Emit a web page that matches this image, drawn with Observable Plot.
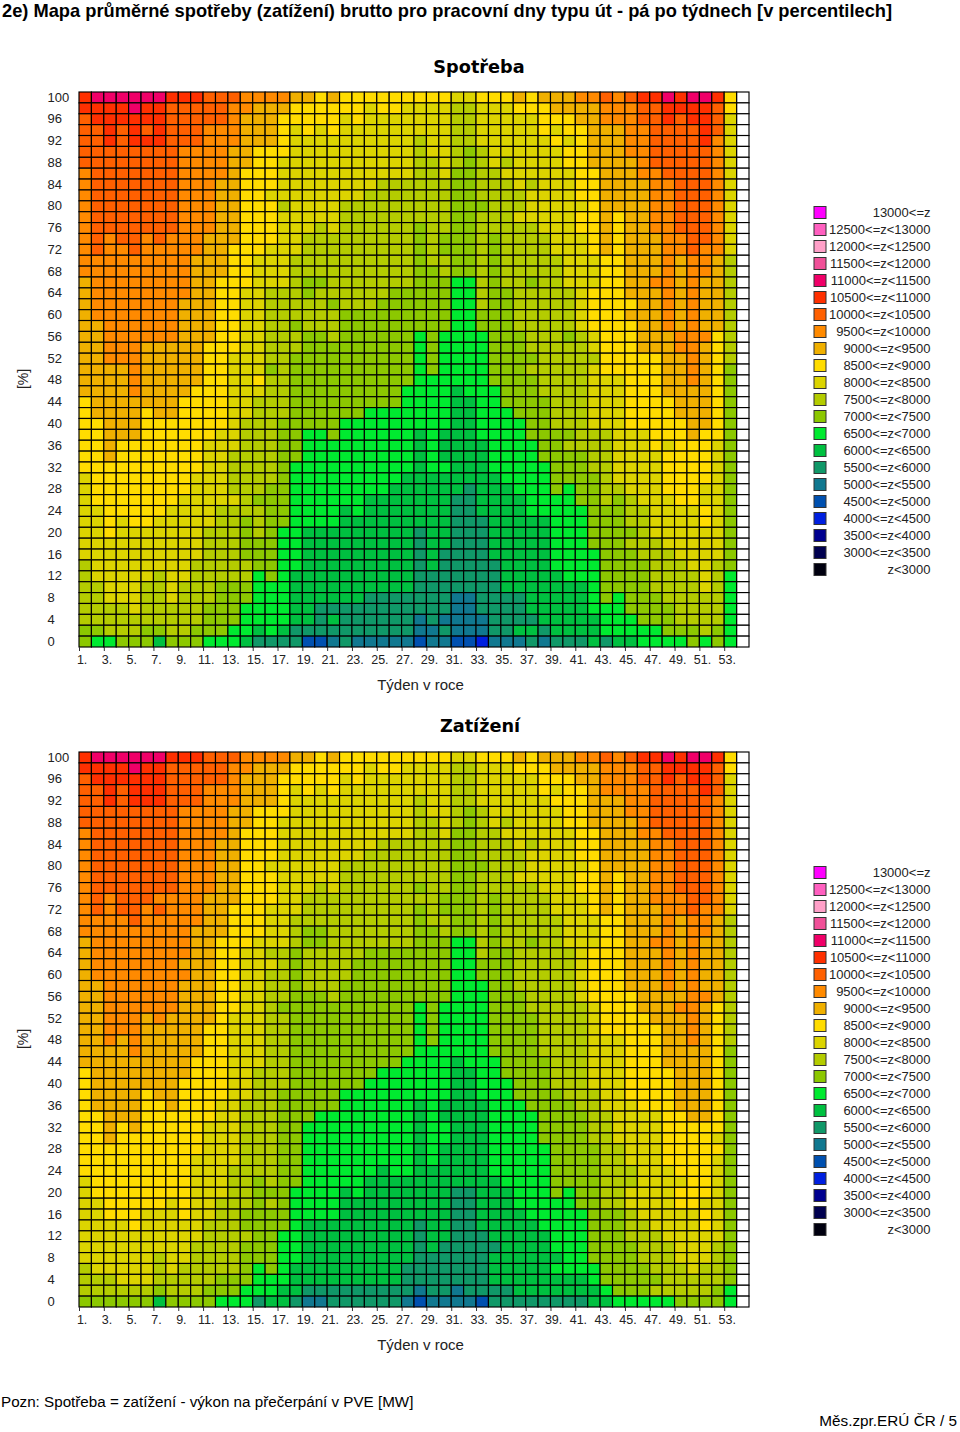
<!DOCTYPE html>
<html><head><meta charset="utf-8">
<script src="https://cdn.jsdelivr.net/npm/d3@7"></script>
<script src="https://cdn.jsdelivr.net/npm/@observablehq/plot@0.6"></script>
<style>
html,body{margin:0;padding:0;background:#fff}
#page{position:relative;width:960px;height:1432px;overflow:hidden;font-family:"Liberation Sans",Arial,sans-serif;color:#000}
#page svg{position:absolute;background:transparent}
.t{position:absolute;white-space:nowrap}
</style></head><body><div id="page"></div>
<script>
const pageTitle = "2e) Mapa průměrné spotřeby (zatížení) brutto pro pracovní dny typu út - pá po týdnech [v percentilech]";
const note = "Pozn: Spotřeba = zatížení - výkon na přečerpání v PVE [MW]";
const pageRef = "Měs.zpr.ERÚ ČR / 5";
const xLabel = "Týden v roce";
const yLabel = "[%]";

const thresholds = [3000,3500,4000,4500,5000,5500,6000,6500,7000,7500,8000,8500,9000,9500,10000,10500,11000,11500,12000,12500,13000];
const colours = ["#00000f","#000050","#000090","#0020e0","#0050b0","#107890","#109868","#00c040","#00ea30","#8cc800","#b4cc00","#dcd400","#ffdc00","#f0b000","#ff8a00","#ff6000","#ff3000","#f00068","#f05098","#ffa0c8","#ff60c0","#ff00ff"];
const legendLabels = ["13000<=z","12500<=z<13000","12000<=z<12500","11500<=z<12000","11000<=z<11500","10500<=z<11000","10000<=z<10500","9500<=z<10000","9000<=z<9500","8500<=z<9000","8000<=z<8500","7500<=z<8000","7000<=z<7500","6500<=z<7000","6000<=z<6500","5500<=z<6000","5000<=z<5500","4500<=z<5000","4000<=z<4500","3500<=z<4000","3000<=z<3500","z<3000"];
const legendValues = [13000,12500,12000,11500,11000,10500,10000,9500,9000,8500,8000,7500,7000,6500,6000,5500,5000,4500,4000,3500,3000,2500];

// band floor (MW) per letter used in the row strings below
const bandFloor = {I:4000,J:4500,K:5000,L:5500,M:6000,N:6500,O:7000,P:7500,Q:8000,R:8500,S:9000,T:9500,U:10000,V:10500,W:11000};

const weeks = d3.range(1,55);
const blankWeek = 54;
const weekTicks = d3.range(1,54,2);
const percentiles = d3.range(100,-1,-2);
const percentileTicks = d3.range(100,-1,-4);

// rows from percentile 100 (top) to 0 (bottom), weeks 1..53
const spotreba = [
"VWWWWWWVVV UUUTTTTSSR SRRRRRRRRR QQRRRSRSSS TTUTUVVWVWWVR",
"VVVVWVVUUU UUTTSSSRRR RRRQRRQQQQ PPQQQRRRSS SSTTTUUVVVVUR",
"UVVVVVVUUU UUTSSSRRRR RQRQQQQQQQ PPQQQQQRRR SSTTTUUVUVVUQ",
"UUVUVUVUUU TTTSSSRQRQ RQQQQQQQQQ PPQQQQQRQR RSSSTTUUUUVUQ",
"UUVUVVVUUU TTTSSSRQQQ QQQQQQQPQQ PPQQQQQQRQ RSSSTTUUUUVTQ",
"UUUUUUUUTT TTSSRRRQQQ QQQQQQQPQQ POPQQQQQQR RSSSTTUUUUUTQ",
"UUUUUUUUTT TTSSRRQQQQ QQQQQQQPPQ POPQPQQQQR RSSSSTUUUUUTQ",
"TUUUUUUUTT TTSRRRQQQQ QQQQQQQPPQ OOPPQQQQQQ RRSSSTTUUUUTQ",
"TUUUUUUUTT TSSRRRQQQQ QQQQPPPPPP OOPPPQPQQQ RRSSSSTTUUUTQ",
"TUUUUUUUTT TSSRRQQQQQ QQQPPPPPPP OOPPPPQQQQ RRSSSSTTUUUTQ",
"TUUUUUUUTT TSSRRRPQQQ QPPPPPPPPP OOOPPPQQQQ QRSSSSTTUUUTQ",
"TUUUUUUUTT TSSRRRQQQQ QPPPPPPPPP OOPPPQQQQQ RRSRSSTTUUUTQ",
"TUUUUUUUTT TSSRRRQQQP QPPPPPPOPP OOPPPPPQQQ RRSRSSTTUUUTQ",
"TUTUUTUTTT SSSRRRQQPP PPPPPPPOPO OOPOPPPPQQ QRSRSSSTTUUTQ",
"TUTTUTTTTT SSRRRQQQPP PPPPPPPOPO OOPOPPPPQQ QRSRSSSTTUTTQ",
"TTTTTTTTTS SSRRQQQPPP PPPPPPPOPP OOPOPPPPPQ QQRRSSSTSTTSP",
"TTTTTTTTTS SSRRQQQPPP PPPPPPPOOP OOPOPPPPPQ QQRRSSSTSTTSP",
"STTTTTTTTS SRRRQQQPOO PPPPPPPOOO NNPOPPOPPQ QQRRSSTTSTSSP",
"STTTTTTTTS SRRQQPPPOP PPPPPOOOOO NNPOOPPPPP QRRRSSSTSTSSP",
"STTTTTTTSS SRRQQPPPPP OPPPOOOOOO NNPOOPPPPP QRRRRSSTSTSSP",
"STTTTTTTSS SRRQQPPPPP POOOOOOOOO NNOOOPPPPP QRRRSSSTSTSSP",
"SSTTTTTTSS SRRQQPPOPP POOOOOOOOO NNOOOPPPPP QRRRRSSTSTSSP",
"SSTTTTTTSS SRRQQPPPOO POOOOOONON NNNOOOPPPO PQRRRSSSTTTRP",
"SSTTTSSSSS RRRQQPPPOO OOOOOOONON NNNOOOPPPP PQRRRSSSTTSRP",
"SSTTTSSSSS RRQQQPPOOO OOOOOOONON NNNOOOOPPP PPRRRRRSSTSRP",
"SSSSTSSSSS RRQQQOPOOO OOOOOOONON NNNOOOPPPP PQRRRRRSSTSRO",
"SSSSTSSSSS RRQQRPPOOO OOOOOOONNN NNNOOOOPPP PQQQRRRSSTSRO",
"SSSSTSSSSR RRQQQPPOOO OOOOOONNNN MNNNOOOPPP PQQQRRRSSSSRO",
"RSSSSSSSRR RRQQPPPOOO OOOOOONNNN MMNNOOOOPP PQQQRRRRSSSRO",
"RSSSSRSSRR RRQQPPPOOO OOONNNNNNN MMNNNOOOPP PQQQRRRRSSSRO",
"RRSSSRRRRR RRQPPPOOOO ONNNNNNNNN MMNNNNOOPP PQQQRRRRRSSRO",
"RRSSSRRRRR RQQPPPOONN ONNNNNNMNM MMNNNNOOOO PPPQQQRRRSRRO",
"RRSRRRRRRR QQQPPPOONN NNNNNNNMNM MMMNNNNOOP PPPQQQRQRRRQO",
"RRSRRRRRRR QQPPPPOONN NNNNNNNMNM MMMNNNNOOO OPPQQQQRRRRQO",
"RRRRRRRRRR QQPPPPONNN NNNNNNNMNN MMMNNNNNOO OPPQQQQRRRRQO",
"QRRRRRRRRQ QQPPPPONNN NNNNNNMMMM MMMMNNNNOO OOPQQQQRRRRQO",
"QRRRRRRRRQ QQPPPOONNN NNNNNMMMMM MLMMMNNNON OOPPQQQRRRQQO",
"QRRRRRRRQQ QQQPOOONNN NNNMMMMMMM LLMMMMNNNN OOPOPQQQRRQQO",
"QQRRRRRQQQ QPPPPOONNN NMNMMMMMMM LLMMMMNNNN NOOOPPQQQQRQO",
"QQRQRRQQQQ QPPOPOONNN NMMMMMMMMM LLLMMMMMNN NOOOPPQQQQRQO",
"QQRQQQQQQQ PPPOPONNMM MMMMMMMLMM LLLMMMMMNN NOOOOPQQQQQQO",
"QQQQQQQQQQ PPPOOONNMM MMMMMMMLMM LLLMMMMMNN NOOOPPPQQQQQO",
"QQQQQQQQQQ PPPOOONNMM MMMMMMMLML LLLMMMMMNN NNOOOPPPQQQQO",
"PQQQQQQQQP PPPPOONNMM MMMMMMMLML LLLLMMMMNN NNOOOOPPPQQPO",
"PQQQQQPQQP PPPPNONMMM MMMMMMMLLL LLLLMMMMMN NNOOOOPPPPQPN",
"PPQQQPPQPP POOONNNMMM MMMMMMMLLL LLLLMMMMMM MNOOOOPPPPQPN",
"PPQQQPPQPP POOONNNMMM MMMLLLLLLL KKLLLLMMMM MNONOOOPPPPPN",
"PPPPQPPPPP OOONNNNMML LLLLLLLLLL KKLLLLMMMM MNNNOOOOPPPPN",
"PPPPPPPPPP OOONNNNMML MLLLLLLKLK KKKLLLLMMM MMNNNOOOPPPPN",
"OOPPPOOPPO OONNMNMLLL LLLLLLLKKL KKKLLMMLMM MMNNNNNOOOPON",
"ONNOOOMOOO NNNMLLLLJJ KLKKKKKJKK JJIKKKLKLL LMLMMNNNNONON"
];

const zatizeni = [
"VWWWWWWVVV UUUTTTTSSR SRRRRRRRRR QQRRRSRSSS TTUTUVVWVWWVR",
"VVVVWVVUUU UUTTSSSRRR RRRQRRQQQQ PPQQQRRRSS SSTTTUUVVVVUR",
"UVVVVVVUUU UUTSSSRRRR RQRQQQQQQQ PPQQQQQRRR SSTTTUUVUVVUQ",
"UUVUVVVUUU TTTSSSRQRQ RQQQQQQQQQ PPQQQQQRQR RSTTTTUUUUVUQ",
"UUVUVVVUUU TTTSSSRQQQ QQQQQQQPQQ PPQQQQQQRR RSSSTTUUUUUTQ",
"UUUUUUUUTT TTSSRRRQQQ QQQQQQQPQQ POPQQQQQQR RSSSTTUUUUUTQ",
"UUUUUUUUTT TTSSRRQQQQ QQQQQQQPPQ POPQPQQQQR RSSSSTUUUUUTQ",
"TUUUUUUUTT TTSRRRQQQQ QQQQQQQPPQ OOPPQQQQQQ RRSSSTTUUUUTQ",
"TUUUUUUUTT TSSRRRQQQQ QQQQPPPPPP OOPPPQPQQQ RRSSSSTTUUUTQ",
"TUUUUUUUTT TSSRRRQQQQ QQQPPPPPPP OOPPPPQQQQ RRSSSSTTUUUTQ",
"TUUUUUUUTT TSSRRQQQQQ QPPPPPPPPP OOOPPPQQQQ QRSSSSTTUUUTQ",
"TUUUUUUUTT TSSRRRQQQQ QPPPPPPPPP OOPPPQQQQQ RRSRSSTTUUUTQ",
"TUUUUUUUTT TSSRRRQQQP QPPPPPPOPP OOPPPPPQQQ RRSRSSTTUUUTQ",
"TUTUUUTTTT SSSRRRQQPP PPPPPPPPPO OOPOPPPPQQ QRSRSSTTTUUTQ",
"TUTUUTUTTT SSRRRQQQPP PPPPPPPOPO OOPOPPPPQQ QRSRSSSTTUTTQ",
"TTTTUTTTTT SSRRRQQPPP PPPPPPPOPP OOPOPPPPPQ QQRRSSSTSTTSP",
"TTTTTTTTTS SSRRRQQPOO PPPPPPPOOP OOPOPPPPPQ QQRRSSSTSTTSP",
"STTTTTTTTS SRRRQQQPOO PPPPPPPOOO NNPOPPOPPQ QQRRSSTTSTSSP",
"STTTTTTTTS SRRQQPPOPP PPPOOOOOOO NNPOOPPPPP QRRRSSSTSTSSP",
"STTTTTTTSS SRRQQQPOPP PPOOOOOOOO NNOOOPPPPP QRRRSSSTSTSSP",
"STTTTTTTTS SRRQQPPOPP PPOOOOOOOO NNOOOPPPPP QRRRSSSTSTSSP",
"SSTTTTTTSS SRRQQPPOPP POOOOOOOOO NNNOOPPPPP QRRRSSSTSTSSP",
"SSTTTTTTSS SRRQQPPOOO POOOOOOOOO NNNOOOPPPP QRRRRSSSSTTSP",
"SSTTTTTTSS SRRQQPOOOO OOOOOOONON NNNOOOPPPP PQRRRSSSTTSRP",
"SSTTTSTSSS SRQQQPPOOO OOOOOOONON NNNOOOOPPP PQRRRRSSSTSRP",
"SSTTTSSSSS RRQQQPPOOO OOOOOOONON NNNOOOOPPP PQRRRRRSSTSRP",
"SSTSTSSSSS RRQQQPPOOO OOOOOOONON NNNOOOOPPP PQQQRRRSSTSRP",
"SSSSTSSSSS RRQQQPPOOO OOOOOOONNN NNNOOOOPPP PQQQRRRSSSSRO",
"SSSSSSSSSR RRQQQPPOOO OOOOOONNNN MNNNOOOOPP PQQQRRRSSSSRO",
"RSSSSSSSSR RRQQPPPOOO OOOONNNNNN MMNNOOOOPP PQQQRRRRSSSRO",
"RSSSSSSSRR RRQQPPPOOO OOONNNNNNN MMNNNOOOPP PQQQRRRRSSSRO",
"RSSSSRSSRR RRQQPPOOOO ONNNNNNNNN MMNNNOOOOP PPQQRRRRSSSRO",
"RSSSSRRSRR RQQPPPOOOO ONNNNNNMNM MMMNNNOOOO PPQQQRRRSSSRO",
"RRSSSRRRRR RQQPPPOOON NNNNNNNMNM MMMNNNNOOO OPPQQQQRRSSRO",
"RRSRSRRRRR QQQPPPOONN NNNNNNNMNN MMMNNNNOOO OPPQQQQRRRRRO",
"RRSRRRRRRR QQQPPPOONN NNNNNNNMNN MMMNNNNOOO OPPQQQQRRRRQO",
"RRRRRRRRRR QQQPPPOONN NNNNNNNMNM MMMNNNNNOO OOPPQQQRRRRRO",
"RRRRRRRRRQ QQQPPPOONN NNNNNNNMNM MMMNNNNNOO OOPPQQQRRRRQO",
"RRRRRRRRRQ QQPPPPOONN NNNNMNNMMM MMMNNNNNOO OOPPPQQQRRRQO",
"QRRRRRRRRQ QQPPOPOONN NNNMMMMMMM MMMMNNNNOO OOPPPQQQQRRQO",
"QRRRRRRRRQ QQPPOOONNN NMNMMMMMMM LLMMMNNNON OOPPQQQQRRRQO",
"QQRRRRRQRQ QPPPOPONNN NMMMMMMMMM LLMMMNNNNN OOPPQQQQRRQQO",
"QQRRRQQQRQ QPPOOOONNN NMMMMMMMMM LLMMMMNNNN NOOOPQQQQQRQO",
"QQQQRQQQQQ PPPOOOONMM MMMMMMMLMM LLMMMMMNNN NOOOPPQQQQRQO",
"QQQQQQQQQQ PPPPOONNMM MMMMMMMLMM LLLMMMMMNN NOOOPPPQQQQQO",
"QQQQQQQQQP PPPOOONNMM MMMMMMMLML LLLLMMMMNN NOOOOPPPQQQPO",
"QQQQQQPQQP PPPOOONNMM MMMMMMMLLL LLLMMMMMMN NOOOOPPPQQQPO",
"PQQQQQPQPP PPPONONMMM MMMMMMLLLL LLLMMMMMNN NNOOOOPPPQPPO",
"PPPQQQPPPP POOONNNMMM MMMMMMLLLL LLLMMMMMMM MNOOOOOPPPPPO",
"PPPPPPOPPP OOONNNMMLL LLLLLLLKLL KLLLLMMMMM MMNOOOPPPPPON",
"OOOOOOMOOO ONNNLMMLKK LLLLLLKJKK KKJLLLLLLL LMMNNNNNOOOON"
];

const page = document.getElementById("page");
function addText(txt, css){const d=document.createElement("div");d.className="t";d.textContent=txt;d.style.cssText=css;page.appendChild(d);}

function table(rows){
  const out=[];
  rows.forEach((r,i)=>{[...r.replace(/ /g,"")].forEach((c,j)=>{
    out.push({week:weeks[j],pct:percentiles[i],z:bandFloor[c]});
  });});
  return out;
}
const labelFont = {fontFamily:"Liberation Sans",fill:"#222"};

function heatmap(rows, top){
  const svg = Plot.plot({
    width:960,height:660,
    marginLeft:79,marginRight:211,marginTop:47,marginBottom:58,
    style:{background:"transparent",fontFamily:"Liberation Sans"},
    x:{type:"band",domain:weeks,padding:0,round:false,axis:null},
    y:{type:"band",domain:percentiles,padding:0,round:false,axis:null},
    color:{type:"threshold",domain:thresholds,range:colours},
    marks:[
      Plot.cell(percentiles.map(p=>({week:blankWeek,pct:p})),{x:"week",y:"pct",fill:"#fff",stroke:"#000",strokeWidth:1.15}),
      Plot.cell(table(rows),{x:"week",y:"pct",fill:"z",stroke:"#000",strokeWidth:1.15}),
      Plot.axisY({ticks:percentileTicks,tickSize:0,tickPadding:32,textAnchor:"start",fontSize:13,dy:-0.6,label:null,...labelFont}),
      Plot.axisX({ticks:weekTicks,tickSize:4,tickFormat:()=>"",dx:-6.2,label:null,stroke:"#333"}),
      Plot.axisX({ticks:weekTicks,tickSize:0,tickPadding:8,tickFormat:d=>d+".",dx:-3.6,fontSize:12.5,letterSpacing:"0.6px",label:null,...labelFont}),
      Plot.text([xLabel],{frameAnchor:"bottom",dx:6,dy:38,fontSize:15,letterSpacing:"0.85px",...labelFont,lineAnchor:"middle"})
    ]
  });
  svg.style.left="0px";svg.style.top=top+"px";
  page.appendChild(svg);
  addText(yLabel,`left:23px;top:${top+334}px;font-size:14px;line-height:16px;color:#222;transform:translate(-50%,-50%) rotate(-90deg);`);
}

function legend(top){
  const rows = legendLabels.map((l,i)=>({label:l,value:legendValues[i],slot:"s"}));
  const svg = Plot.plot({
    width:150,height:374,margin:0,
    style:{background:"transparent",fontFamily:"Liberation Sans"},
    x:{type:"band",domain:["s"],range:[14,26],padding:0,round:false,axis:null},
    y:{type:"band",domain:legendLabels,padding:0,round:false,axis:null},
    color:{type:"threshold",domain:thresholds,range:colours},
    marks:[
      Plot.cell(rows,{x:"slot",y:"label",fill:"value",stroke:"#333",strokeWidth:1,insetTop:2.5,insetBottom:2.5}),
      Plot.text(rows,{y:"label",text:"label",frameAnchor:"right",dx:-20,textAnchor:"end",fontSize:13,letterSpacing:"0.4px",...labelFont})
    ]
  });
  svg.style.left="800px";svg.style.top=top+"px";
  page.appendChild(svg);
}

addText(pageTitle,"left:2px;top:0px;font-weight:bold;font-size:18.27px;line-height:22px;");
addText("Spotřeba","left:479px;top:56px;transform:translateX(-50%);font-family:'DejaVu Sans';font-weight:bold;font-size:17.7px;line-height:22px;");
heatmap(spotreba,45);
legend(203.5);
addText("Zatížení","left:480px;top:715px;transform:translateX(-50%);font-family:'DejaVu Sans';font-weight:bold;font-size:17.7px;line-height:22px;");
heatmap(zatizeni,705);
legend(863.5);
addText(note,"left:1px;top:1392px;font-size:15.2px;line-height:19px;");
addText(pageRef,"right:3px;top:1411px;font-size:15.3px;line-height:19px;");
</script></body></html>
